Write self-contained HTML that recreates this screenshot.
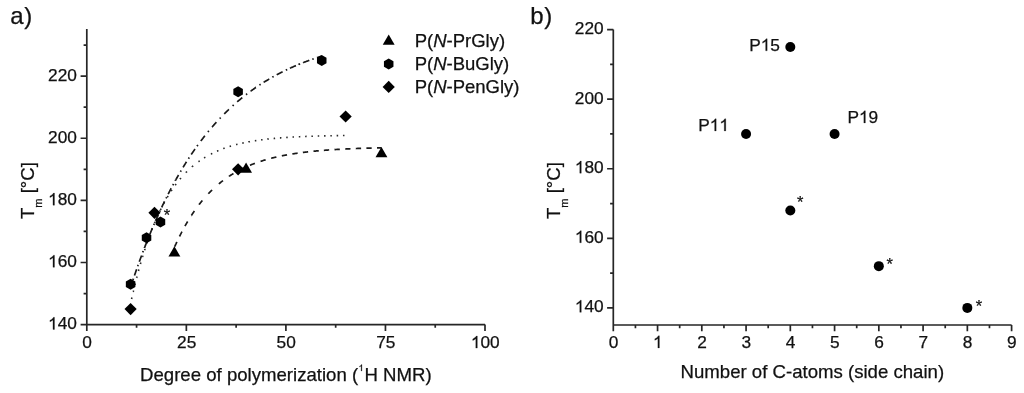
<!DOCTYPE html><html><head><meta charset="utf-8"><style>html,body{margin:0;padding:0;background:#fff;}svg{display:block;will-change:transform;font-kerning:none}text{white-space:pre;stroke:#111;stroke-width:0.25px}</style></head><body>
<svg width="1024" height="393" viewBox="0 0 1024 393" font-family="&quot;Liberation Sans&quot;, sans-serif" fill="#111">
<path d="M86.80 29V330.90 M80.60 324.60H485.00 M83.60 293.54H86.80 M80.60 262.48H86.80 M83.60 231.42H86.80 M80.60 200.36H86.80 M83.60 169.30H86.80 M80.60 138.24H86.80 M83.60 107.18H86.80 M80.60 76.12H86.80 M83.60 45.06H86.80 M136.57 324.60V327.80 M186.35 324.60V330.90 M236.12 324.60V327.80 M285.90 324.60V330.90 M335.68 324.60V327.80 M385.45 324.60V330.90 M435.23 324.60V327.80 M485.00 324.60V330.90" stroke="#262626" stroke-width="1.7" fill="none"/>
<g transform="translate(76.90 329.40)"><path transform="translate(-28.86 0.00) scale(0.00845 -0.00824)" d="M763 0L583 0L583 1147Q518 1085 412 1023Q306 961 222 930L222 1104Q373 1175 486 1276Q599 1377 646 1466L763 1466Z" stroke="#111" stroke-width="0.25" vector-effect="non-scaling-stroke"/><text x="-19.24" y="0.00" font-size="17.3">40</text></g>
<g transform="translate(76.90 267.28)"><path transform="translate(-28.86 0.00) scale(0.00845 -0.00824)" d="M763 0L583 0L583 1147Q518 1085 412 1023Q306 961 222 930L222 1104Q373 1175 486 1276Q599 1377 646 1466L763 1466Z" stroke="#111" stroke-width="0.25" vector-effect="non-scaling-stroke"/><text x="-19.24" y="0.00" font-size="17.3">60</text></g>
<g transform="translate(76.90 205.16)"><path transform="translate(-28.86 0.00) scale(0.00845 -0.00824)" d="M763 0L583 0L583 1147Q518 1085 412 1023Q306 961 222 930L222 1104Q373 1175 486 1276Q599 1377 646 1466L763 1466Z" stroke="#111" stroke-width="0.25" vector-effect="non-scaling-stroke"/><text x="-19.24" y="0.00" font-size="17.3">80</text></g>
<g transform="translate(76.90 143.04)"><text x="-28.86" y="0.00" font-size="17.3">200</text></g>
<g transform="translate(76.90 80.92)"><text x="-28.86" y="0.00" font-size="17.3">220</text></g>
<g transform="translate(87.10 348.10)"><text x="-4.81" y="0.00" font-size="17.3">0</text></g>
<g transform="translate(186.65 348.10)"><text x="-9.62" y="0.00" font-size="17.3">25</text></g>
<g transform="translate(286.20 348.10)"><text x="-9.62" y="0.00" font-size="17.3">50</text></g>
<g transform="translate(385.75 348.10)"><text x="-9.62" y="0.00" font-size="17.3">75</text></g>
<g transform="translate(485.30 348.10)"><path transform="translate(-14.43 0.00) scale(0.00845 -0.00824)" d="M763 0L583 0L583 1147Q518 1085 412 1023Q306 961 222 930L222 1104Q373 1175 486 1276Q599 1377 646 1466L763 1466Z" stroke="#111" stroke-width="0.25" vector-effect="non-scaling-stroke"/><text x="-4.81" y="0.00" font-size="17.3">00</text></g>
<path d="M613.30 29.58V331.20 M613.30 325.00H1011.60 M607.10 307.90H613.30 M610.10 273.11H613.30 M607.10 238.32H613.30 M610.10 203.53H613.30 M607.10 168.74H613.30 M610.10 133.95H613.30 M607.10 99.16H613.30 M610.10 64.37H613.30 M607.10 29.58H613.30 M635.43 325.00V328.20 M657.56 325.00V331.20 M679.68 325.00V328.20 M701.81 325.00V331.20 M723.94 325.00V328.20 M746.07 325.00V331.20 M768.19 325.00V328.20 M790.32 325.00V331.20 M812.45 325.00V328.20 M834.58 325.00V331.20 M856.71 325.00V328.20 M878.83 325.00V331.20 M900.96 325.00V328.20 M923.09 325.00V331.20 M945.22 325.00V328.20 M967.34 325.00V331.20 M989.47 325.00V328.20 M1011.60 325.00V331.20" stroke="#262626" stroke-width="1.7" fill="none"/>
<g transform="translate(603.70 312.30)"><path transform="translate(-28.86 0.00) scale(0.00845 -0.00824)" d="M763 0L583 0L583 1147Q518 1085 412 1023Q306 961 222 930L222 1104Q373 1175 486 1276Q599 1377 646 1466L763 1466Z" stroke="#111" stroke-width="0.25" vector-effect="non-scaling-stroke"/><text x="-19.24" y="0.00" font-size="17.3">40</text></g>
<g transform="translate(603.70 242.72)"><path transform="translate(-28.86 0.00) scale(0.00845 -0.00824)" d="M763 0L583 0L583 1147Q518 1085 412 1023Q306 961 222 930L222 1104Q373 1175 486 1276Q599 1377 646 1466L763 1466Z" stroke="#111" stroke-width="0.25" vector-effect="non-scaling-stroke"/><text x="-19.24" y="0.00" font-size="17.3">60</text></g>
<g transform="translate(603.70 173.14)"><path transform="translate(-28.86 0.00) scale(0.00845 -0.00824)" d="M763 0L583 0L583 1147Q518 1085 412 1023Q306 961 222 930L222 1104Q373 1175 486 1276Q599 1377 646 1466L763 1466Z" stroke="#111" stroke-width="0.25" vector-effect="non-scaling-stroke"/><text x="-19.24" y="0.00" font-size="17.3">80</text></g>
<g transform="translate(603.70 103.56)"><text x="-28.86" y="0.00" font-size="17.3">200</text></g>
<g transform="translate(603.70 33.98)"><text x="-28.86" y="0.00" font-size="17.3">220</text></g>
<g transform="translate(613.50 347.90)"><text x="-4.81" y="0.00" font-size="17.3">0</text></g>
<g transform="translate(657.76 347.90)"><path transform="translate(-4.81 0.00) scale(0.00845 -0.00824)" d="M763 0L583 0L583 1147Q518 1085 412 1023Q306 961 222 930L222 1104Q373 1175 486 1276Q599 1377 646 1466L763 1466Z" stroke="#111" stroke-width="0.25" vector-effect="non-scaling-stroke"/></g>
<g transform="translate(702.01 347.90)"><text x="-4.81" y="0.00" font-size="17.3">2</text></g>
<g transform="translate(746.27 347.90)"><text x="-4.81" y="0.00" font-size="17.3">3</text></g>
<g transform="translate(790.52 347.90)"><text x="-4.81" y="0.00" font-size="17.3">4</text></g>
<g transform="translate(834.78 347.90)"><text x="-4.81" y="0.00" font-size="17.3">5</text></g>
<g transform="translate(879.03 347.90)"><text x="-4.81" y="0.00" font-size="17.3">6</text></g>
<g transform="translate(923.29 347.90)"><text x="-4.81" y="0.00" font-size="17.3">7</text></g>
<g transform="translate(967.54 347.90)"><text x="-4.81" y="0.00" font-size="17.3">8</text></g>
<g transform="translate(1011.80 347.90)"><text x="-4.81" y="0.00" font-size="17.3">9</text></g>
<g transform="translate(0.00 24.30)"><text x="10.18" y="0.00" font-size="24">a</text><text x="24.36" y="0.00" font-size="24">)</text></g>
<g transform="translate(0.00 24.40)"><text x="530.25" y="0.00" font-size="24">b</text><text x="544.36" y="0.00" font-size="24">)</text></g>
<g transform="translate(140.07 381.30)"><text x="0.00" y="0.00" font-size="18.6">Degree of polymerization (</text><path transform="translate(218.43 -10.30) scale(0.00449 -0.00438)" d="M763 0L583 0L583 1147Q518 1085 412 1023Q306 961 222 930L222 1104Q373 1175 486 1276Q599 1377 646 1466L763 1466Z" stroke="#111" stroke-width="0.25" vector-effect="non-scaling-stroke"/><text x="224.40" y="0.00" font-size="18.6">H NMR)</text></g>
<g transform="translate(680.57 378.20)"><text x="0.00" y="0.00" font-size="18.6">Number of C-atoms (side chain)</text></g>
<g transform="translate(33.70 219.02) rotate(-90)"><text x="0.00" y="0.00" font-size="18.6">T</text><text x="11.36" y="7.90" font-size="11">m</text><text x="20.52" y="0.00" font-size="18.6"> [°C]</text></g>
<g transform="translate(560.00 219.02) rotate(-90)"><text x="0.00" y="0.00" font-size="18.6">T</text><text x="11.36" y="7.90" font-size="11">m</text><text x="20.52" y="0.00" font-size="18.6"> [°C]</text></g>
<path d="M382.75 44.74L394.65 44.74L388.70 34.43Z" fill="#000"/>
<g transform="translate(414.68 47.40)"><text x="0.00" y="0.00" font-size="18.5">P(</text><text x="18.50" y="0.00" font-size="18.5" font-style="italic">N</text><text x="31.86" y="0.00" font-size="18.5">-PrGly)</text></g>
<path d="M388.70 58.50L383.94 61.25L383.94 66.75L388.70 69.50L393.46 66.75L393.46 61.25Z" fill="#000"/>
<g transform="translate(414.68 70.10)"><text x="0.00" y="0.00" font-size="18.5">P(</text><text x="18.50" y="0.00" font-size="18.5" font-style="italic">N</text><text x="31.86" y="0.00" font-size="18.5">-BuGly)</text></g>
<path d="M388.70 80.80L394.80 86.90L388.70 93.00L382.60 86.90Z" fill="#000"/>
<g transform="translate(414.68 93.00)"><text x="0.00" y="0.00" font-size="18.5">P(</text><text x="18.50" y="0.00" font-size="18.5" font-style="italic">N</text><text x="31.86" y="0.00" font-size="18.5">-PenGly)</text></g>
<path d="M174.71 246.64L174.71 246.62L174.89 246.24L175.06 245.85L175.23 245.47L175.40 245.09L175.58 244.71L175.75 244.33L175.92 243.95L176.10 243.58L176.27 243.20L176.44 242.83L176.61 242.46L176.79 242.09L176.91 241.82M179.52 236.41L179.55 236.37L179.72 236.02L179.89 235.67L180.06 235.33L180.24 234.99L180.41 234.65L180.58 234.31L180.76 233.97L180.93 233.63L181.10 233.30L181.27 232.96L181.45 232.63L181.62 232.30L181.79 231.97L181.93 231.69M184.99 226.07L185.00 226.05L185.21 225.68L185.41 225.32L185.62 224.95L185.83 224.59L186.04 224.23L186.24 223.87L186.45 223.51L186.66 223.16L186.86 222.80L187.07 222.45L187.28 222.10L187.49 221.75L187.65 221.48M191.45 215.37L191.46 215.37L191.70 215.00L191.94 214.63L192.18 214.26L192.42 213.90L192.66 213.53L192.90 213.17L193.15 212.81L193.39 212.46L193.63 212.10L193.87 211.75L194.11 211.40L194.35 211.05L194.41 210.97M199.07 204.60L199.08 204.58L199.36 204.22L199.64 203.87L199.91 203.52L200.19 203.17L200.46 202.82L200.74 202.47L201.02 202.13L201.29 201.79L201.57 201.45L201.84 201.11L202.12 200.78L202.38 200.46M208.36 193.73L208.37 193.72L208.68 193.39L208.99 193.07L209.30 192.75L209.61 192.43L209.92 192.11L210.23 191.80L210.54 191.48L210.85 191.17L211.16 190.86L211.47 190.56L211.79 190.26L212.08 189.96M218.85 183.89L218.86 183.88L219.21 183.59L219.55 183.31L219.90 183.03L220.24 182.75L220.59 182.47L220.93 182.19L221.28 181.92L221.62 181.65L221.97 181.38L222.31 181.12L222.66 180.85L223.00 180.59M228.96 176.37L228.97 176.35L229.32 176.13L229.66 175.90L230.01 175.68L230.36 175.45L230.70 175.23L231.05 175.01L231.39 174.79L231.74 174.58L232.08 174.36L232.43 174.15L232.77 173.94L233.12 173.73L233.44 173.54M239.19 170.30L239.19 170.30L239.57 170.10L239.95 169.91L240.33 169.71L240.71 169.52L241.09 169.32L241.47 169.13L241.85 168.94L242.23 168.76L242.61 168.57L242.99 168.38L243.37 168.20L243.75 168.02L243.93 167.93M249.96 165.26L249.99 165.25L250.37 165.09L250.75 164.94L251.13 164.78L251.51 164.63L251.89 164.48L252.27 164.33L252.65 164.18L253.03 164.03L253.41 163.89L253.79 163.74L254.17 163.60L254.55 163.46L254.90 163.33M260.56 161.36L260.59 161.35L261.01 161.21L261.42 161.08L261.83 160.95L262.25 160.82L262.66 160.69L263.08 160.56L263.49 160.43L263.91 160.31L264.32 160.18L264.73 160.06L265.15 159.94L265.56 159.81L265.63 159.79M271.22 158.26L271.26 158.26L271.67 158.15L272.09 158.04L272.50 157.94L272.91 157.84L273.33 157.74L273.74 157.64L274.16 157.53L274.57 157.44L274.98 157.34L275.40 157.24L275.81 157.14L276.23 157.05L276.37 157.02M281.85 155.84L281.85 155.84L282.27 155.75L282.68 155.67L283.10 155.59L283.51 155.51L283.92 155.43L284.34 155.35L284.75 155.27L285.17 155.19L285.58 155.11L286.00 155.04L286.41 154.96L286.82 154.88L287.05 154.84M292.38 153.94L292.38 153.94L292.80 153.87L293.21 153.81L293.62 153.74L294.04 153.68L294.45 153.62L294.87 153.55L295.28 153.49L295.69 153.43L296.11 153.37L296.52 153.31L296.94 153.25L297.35 153.19L297.62 153.15M302.87 152.45L302.87 152.45L303.29 152.39L303.70 152.34L304.12 152.29L304.53 152.24L304.95 152.19L305.36 152.14L305.77 152.09L306.19 152.04L306.60 151.99L307.02 151.95L307.43 151.90L307.84 151.85L308.13 151.82M313.50 151.25L313.51 151.25L313.92 151.21L314.33 151.17L314.75 151.13L315.16 151.09L315.58 151.05L315.99 151.01L316.40 150.97L316.82 150.93L317.23 150.90L317.65 150.86L318.06 150.82L318.48 150.78L318.78 150.76M323.86 150.33L323.89 150.33L324.31 150.30L324.72 150.27L325.14 150.23L325.55 150.20L325.97 150.17L326.38 150.14L326.79 150.11L327.21 150.08L327.62 150.05L328.04 150.02L328.45 149.99L328.86 149.96L329.15 149.94M334.54 149.59L334.56 149.58L334.97 149.56L335.39 149.53L335.80 149.51L336.22 149.48L336.63 149.46L337.05 149.43L337.46 149.41L337.87 149.39L338.29 149.36L338.70 149.34L339.12 149.32L339.53 149.29L339.83 149.28M345.22 149.00L345.23 149.00L345.64 148.98L346.05 148.96L346.47 148.94L346.88 148.92L347.30 148.90L347.71 148.88L348.13 148.86L348.54 148.84L348.95 148.82L349.37 148.80L349.78 148.78L350.20 148.77L350.52 148.75M355.81 148.54L355.82 148.54L356.24 148.52L356.65 148.50L357.06 148.49L357.48 148.47L357.89 148.46L358.31 148.44L358.72 148.43L359.14 148.41L359.55 148.40L359.96 148.38L360.38 148.37L360.79 148.35L361.11 148.34M366.40 148.17L366.42 148.17L366.83 148.16L367.25 148.15L367.66 148.14L368.08 148.12L368.49 148.11L368.90 148.10L369.32 148.09L369.73 148.08L370.15 148.06L370.56 148.05L370.98 148.04L371.39 148.03L371.70 148.02M377.00 147.89L377.02 147.89L377.36 147.88L377.71 147.87L378.05 147.86L378.40 147.85L378.74 147.85L379.09 147.84L379.43 147.83L379.78 147.82L380.12 147.82L380.47 147.81L380.81 147.80L381.16 147.79L381.47 147.79" fill="none" stroke="#1a1a1a" stroke-width="1.7"/>
<path d="M131.59 299.03L131.61 298.94L131.64 298.79L131.68 298.63L131.71 298.47L131.75 298.31L131.78 298.15L131.82 297.99L131.86 297.83L131.89 297.67L131.92 297.56M133.20 291.99L133.22 291.93L133.25 291.78L133.29 291.62L133.33 291.47L133.36 291.32L133.40 291.17L133.43 291.01L133.47 290.86L133.51 290.71L133.54 290.56L133.55 290.53M134.89 284.97L134.90 284.92L134.94 284.77L134.97 284.63L135.01 284.48L135.05 284.34L135.08 284.19L135.12 284.05L135.15 283.90L135.19 283.76L135.23 283.61L135.25 283.52M136.65 277.97L136.66 277.95L136.70 277.81L136.73 277.67L136.77 277.53L136.80 277.39L136.84 277.25L136.87 277.11L136.91 276.98L136.95 276.84L136.98 276.70L137.02 276.56L137.03 276.52M138.50 271.00L138.52 270.90L138.56 270.77L138.60 270.64L138.63 270.50L138.67 270.37L138.70 270.24L138.74 270.11L138.77 269.98L138.81 269.85L138.85 269.72L138.88 269.58L138.89 269.55M140.43 264.04L140.46 263.95L140.49 263.82L140.53 263.70L140.57 263.57L140.60 263.45L140.64 263.32L140.67 263.20L140.71 263.07L140.75 262.95L140.78 262.83L140.82 262.70L140.85 262.60M142.47 257.12L142.47 257.12L142.50 257.00L142.54 256.88L142.57 256.76L142.61 256.64L142.65 256.52L142.68 256.41L142.72 256.29L142.75 256.17L142.79 256.05L142.82 255.94L142.86 255.82L142.90 255.70L142.90 255.68M144.61 250.23L144.62 250.20L144.65 250.09L144.69 249.97L144.72 249.86L144.76 249.75L144.80 249.64L144.83 249.53L144.87 249.42L144.90 249.31L144.94 249.19L144.98 249.08L145.01 248.97L145.05 248.86L145.07 248.80M146.87 243.37L146.88 243.35L146.91 243.25L146.95 243.14L146.98 243.04L147.02 242.93L147.05 242.83L147.09 242.72L147.13 242.62L147.16 242.51L147.20 242.41L147.23 242.31L147.27 242.20L147.31 242.10L147.34 241.99L147.36 241.95M149.26 236.56L149.28 236.52L149.31 236.42L149.35 236.32L149.38 236.23L149.42 236.13L149.46 236.03L149.49 235.93L149.53 235.83L149.56 235.73L149.60 235.64L149.64 235.54L149.67 235.44L149.71 235.34L149.74 235.25L149.78 235.15M151.80 229.81L151.82 229.75L151.86 229.66L151.89 229.57L151.93 229.47L151.97 229.38L152.00 229.29L152.04 229.20L152.07 229.11L152.11 229.02L152.14 228.92L152.18 228.83L152.22 228.74L152.25 228.65L152.29 228.56L152.32 228.47L152.35 228.41M154.50 223.11L154.51 223.09L154.55 223.00L154.58 222.92L154.62 222.83L154.65 222.75L154.69 222.66L154.72 222.57L154.76 222.49L154.80 222.40L154.83 222.32L154.87 222.23L154.90 222.15L154.94 222.07L154.98 221.98L155.01 221.90L155.05 221.81L155.08 221.73M157.38 216.49L157.41 216.42L157.45 216.34L157.48 216.26L157.52 216.18L157.56 216.10L157.59 216.02L157.63 215.94L157.66 215.86L157.70 215.79L157.74 215.71L157.77 215.63L157.81 215.55L157.84 215.47L157.88 215.39L157.92 215.32L157.95 215.24L157.99 215.16L158.00 215.13M160.46 209.97L160.46 209.96L160.50 209.89L160.53 209.81L160.57 209.74L160.60 209.67L160.64 209.59L160.68 209.52L160.71 209.45L160.75 209.38L160.78 209.31L160.82 209.23L160.85 209.16L160.89 209.09L160.93 209.02L160.96 208.95L161.00 208.87L161.03 208.80L161.07 208.73L161.11 208.66L161.12 208.62M163.76 203.55L163.76 203.54L163.79 203.48L163.83 203.41L163.87 203.34L163.90 203.28L163.94 203.21L163.97 203.15L164.01 203.08L164.04 203.01L164.08 202.95L164.12 202.88L164.15 202.82L164.19 202.75L164.22 202.68L164.26 202.62L164.30 202.55L164.33 202.49L164.37 202.42L164.40 202.36L164.44 202.29L164.47 202.23M167.30 197.26L167.31 197.25L167.34 197.19L167.38 197.13L167.41 197.07L167.45 197.01L167.49 196.95L167.52 196.89L167.56 196.83L167.59 196.77L167.63 196.71L167.66 196.65L167.70 196.59L167.74 196.53L167.77 196.47L167.81 196.41L167.84 196.35L167.88 196.29L167.92 196.23L167.95 196.17L167.99 196.11L168.02 196.06L168.06 196.00L168.07 195.97M171.12 191.14L171.14 191.10L171.18 191.05L171.21 190.99L171.25 190.94L171.28 190.88L171.32 190.83L171.36 190.78L171.39 190.72L171.43 190.67L171.46 190.61L171.50 190.56L171.54 190.51L171.57 190.45L171.61 190.40L171.64 190.34L171.68 190.29L171.72 190.24L171.75 190.18L171.79 190.13L171.82 190.08L171.86 190.02L171.89 189.97L171.93 189.92L171.95 189.89M175.23 185.21L175.26 185.17L175.34 185.07L175.41 184.97L175.48 184.88L175.55 184.78L175.62 184.68L175.69 184.59L175.77 184.49L175.84 184.39L175.91 184.30L175.98 184.20L176.05 184.11L176.12 184.01L176.13 184.00M179.98 179.14L179.99 179.12L180.07 179.04L180.14 178.95L180.21 178.87L180.28 178.78L180.35 178.70L180.43 178.61L180.50 178.53L180.57 178.44L180.64 178.36L180.71 178.27L180.78 178.19L180.86 178.11L180.93 178.02L180.95 178.00M185.88 172.62L185.91 172.58L185.98 172.51L186.05 172.44L186.12 172.36L186.20 172.29L186.27 172.22L186.34 172.15L186.41 172.07L186.48 172.00L186.55 171.93L186.63 171.86L186.70 171.79L186.77 171.72L186.84 171.64L186.91 171.57L186.93 171.55M192.07 166.80L192.07 166.79L192.15 166.73L192.22 166.67L192.29 166.61L192.36 166.55L192.43 166.48L192.50 166.42L192.58 166.36L192.65 166.30L192.72 166.24L192.79 166.18L192.86 166.12L192.93 166.06L193.01 166.00L193.08 165.94L193.15 165.88L193.21 165.83M198.50 161.71L198.53 161.69L198.60 161.63L198.67 161.58L198.74 161.53L198.81 161.48L198.88 161.43L198.96 161.38L199.03 161.32L199.10 161.27L199.17 161.22L199.24 161.17L199.31 161.12L199.39 161.07L199.46 161.02L199.53 160.97L199.60 160.92L199.67 160.87L199.72 160.84M204.05 157.97L204.08 157.95L204.15 157.91L204.23 157.86L204.30 157.82L204.37 157.77L204.44 157.73L204.51 157.68L204.58 157.64L204.66 157.60L204.73 157.55L204.80 157.51L204.87 157.46L204.94 157.42L205.01 157.38L205.09 157.33L205.16 157.29L205.23 157.25L205.30 157.20L205.33 157.19M210.92 154.06L210.93 154.06L211.04 154.00L211.14 153.95L211.25 153.89L211.36 153.84L211.47 153.78L211.57 153.73L211.68 153.67L211.79 153.62L211.90 153.56L212.00 153.51L212.11 153.46L212.22 153.40L212.25 153.38M217.05 151.14L217.06 151.14L217.17 151.09L217.27 151.04L217.38 151.00L217.49 150.95L217.60 150.90L217.70 150.86L217.81 150.81L217.92 150.76L218.03 150.72L218.13 150.67L218.24 150.63L218.35 150.58L218.43 150.54M223.27 148.63L223.29 148.62L223.40 148.58L223.51 148.54L223.62 148.50L223.72 148.46L223.83 148.42L223.94 148.38L224.05 148.35L224.15 148.31L224.26 148.27L224.37 148.23L224.48 148.19L224.58 148.15L224.68 148.12M229.61 146.47L229.64 146.46L229.75 146.43L229.85 146.40L229.96 146.36L230.07 146.33L230.18 146.30L230.28 146.27L230.39 146.23L230.50 146.20L230.61 146.17L230.71 146.13L230.82 146.10L230.93 146.07L231.04 146.04L231.04 146.04M236.05 144.63L236.05 144.63L236.16 144.60L236.27 144.57L236.38 144.55L236.49 144.52L236.59 144.49L236.70 144.46L236.81 144.44L236.92 144.41L237.02 144.38L237.13 144.35L237.24 144.33L237.35 144.30L237.45 144.27L237.50 144.26M242.27 143.13L242.29 143.13L242.40 143.10L242.51 143.08L242.61 143.06L242.72 143.03L242.83 143.01L242.94 142.99L243.04 142.96L243.15 142.94L243.26 142.92L243.37 142.89L243.47 142.87L243.58 142.85L243.69 142.82L243.74 142.81M248.45 141.88L248.46 141.87L248.56 141.85L248.67 141.83L248.78 141.81L248.89 141.79L248.99 141.77L249.10 141.75L249.21 141.73L249.32 141.71L249.42 141.69L249.53 141.67L249.64 141.66L249.75 141.64L249.85 141.62L249.92 141.60M254.85 140.77L254.87 140.77L254.98 140.75L255.09 140.74L255.20 140.72L255.30 140.70L255.41 140.69L255.52 140.67L255.63 140.65L255.73 140.64L255.84 140.62L255.95 140.60L256.06 140.59L256.16 140.57L256.27 140.56L256.33 140.55M261.10 139.87L261.11 139.87L261.22 139.86L261.32 139.84L261.43 139.83L261.54 139.81L261.65 139.80L261.76 139.78L261.86 139.77L261.97 139.76L262.08 139.74L262.19 139.73L262.29 139.72L262.40 139.70L262.51 139.69L262.58 139.68M267.36 139.11L267.38 139.10L267.49 139.09L267.60 139.08L267.71 139.07L267.81 139.06L267.92 139.04L268.03 139.03L268.14 139.02L268.24 139.01L268.35 139.00L268.46 138.99L268.57 138.97L268.67 138.96L268.78 138.95L268.85 138.94M273.64 138.46L273.66 138.46L273.76 138.45L273.87 138.44L273.98 138.43L274.09 138.42L274.19 138.41L274.30 138.40L274.41 138.39L274.52 138.38L274.62 138.37L274.73 138.36L274.84 138.35L274.95 138.34L275.05 138.33L275.13 138.32M279.92 137.91L279.93 137.91L280.04 137.91L280.14 137.90L280.25 137.89L280.36 137.88L280.47 137.87L280.57 137.86L280.68 137.85L280.79 137.85L280.90 137.84L281.00 137.83L281.11 137.82L281.22 137.81L281.33 137.80L281.42 137.80M286.22 137.45L286.24 137.45L286.34 137.44L286.45 137.44L286.56 137.43L286.67 137.42L286.77 137.42L286.88 137.41L286.99 137.40L287.10 137.39L287.20 137.39L287.31 137.38L287.42 137.37L287.53 137.37L287.63 137.36L287.71 137.35M292.51 137.06L292.55 137.06L292.65 137.06L292.76 137.05L292.87 137.04L292.98 137.04L293.08 137.03L293.19 137.03L293.30 137.02L293.41 137.01L293.51 137.01L293.62 137.00L293.73 137.00L293.84 136.99L293.94 136.98L294.01 136.98M298.81 136.74L298.82 136.74L298.93 136.73L299.03 136.73L299.14 136.72L299.25 136.72L299.36 136.71L299.46 136.71L299.57 136.70L299.68 136.70L299.79 136.69L299.89 136.69L300.00 136.68L300.11 136.68L300.22 136.67L300.31 136.67M305.12 136.46L305.13 136.46L305.23 136.45L305.34 136.45L305.45 136.45L305.56 136.44L305.66 136.44L305.77 136.43L305.88 136.43L305.99 136.42L306.09 136.42L306.20 136.42L306.31 136.41L306.42 136.41L306.52 136.40L306.62 136.40M311.42 136.23L311.43 136.23L311.54 136.22L311.65 136.22L311.76 136.22L311.86 136.21L311.97 136.21L312.08 136.20L312.19 136.20L312.30 136.20L312.40 136.19L312.51 136.19L312.62 136.19L312.73 136.18L312.83 136.18L312.92 136.18M317.73 136.03L317.74 136.03L317.85 136.03L317.96 136.02L318.07 136.02L318.17 136.02L318.28 136.01L318.39 136.01L318.50 136.01L318.60 136.01L318.71 136.00L318.82 136.00L318.93 136.00L319.03 135.99L319.14 135.99L319.23 135.99M324.04 135.86L324.05 135.86L324.16 135.86L324.27 135.86L324.37 135.86L324.48 135.85L324.59 135.85L324.70 135.85L324.80 135.85L324.91 135.84L325.02 135.84L325.13 135.84L325.23 135.84L325.34 135.83L325.45 135.83L325.54 135.83M330.35 135.72L330.36 135.72L330.47 135.72L330.58 135.72L330.68 135.72L330.79 135.72L330.90 135.71L331.01 135.71L331.11 135.71L331.22 135.71L331.33 135.70L331.44 135.70L331.54 135.70L331.65 135.70L331.76 135.70L331.85 135.69M336.66 135.61L336.67 135.61L336.78 135.60L336.88 135.60L336.99 135.60L337.10 135.60L337.21 135.60L337.31 135.60L337.42 135.59L337.53 135.59L337.64 135.59L337.74 135.59L337.85 135.59L337.96 135.58L338.07 135.58L338.16 135.58M342.97 135.51L342.98 135.51L343.09 135.51L343.19 135.50L343.30 135.50L343.41 135.50L343.52 135.50L343.62 135.50L343.73 135.50L343.84 135.49L343.95 135.49L344.05 135.49L344.16 135.49L344.27 135.49L344.38 135.49L344.47 135.49" fill="none" stroke="#2a2a2a" stroke-width="1.6"/>
<path d="M132.93 280.10L132.96 280.02L132.99 279.92L133.02 279.83L133.06 279.73L133.09 279.64L133.12 279.54L133.15 279.45L133.18 279.35L133.21 279.26L133.25 279.16L133.28 279.07L133.31 278.97L133.34 278.88L133.37 278.78L133.41 278.69L133.41 278.67M137.72 266.19L137.74 266.13L137.77 266.04L137.80 265.95L137.83 265.86L137.87 265.77L137.90 265.68L137.93 265.59L137.96 265.50L137.99 265.41L138.03 265.32L138.06 265.23L138.09 265.14L138.12 265.05L138.15 264.96L138.18 264.87L138.22 264.78L138.22 264.78M142.75 252.39L142.77 252.33L142.80 252.25L142.84 252.16L142.87 252.08L142.90 251.99L142.93 251.91L142.96 251.82L143.00 251.74L143.03 251.66L143.06 251.57L143.09 251.49L143.12 251.40L143.16 251.32L143.19 251.23L143.22 251.15L143.25 251.07L143.28 250.98M148.07 238.68L148.09 238.62L148.13 238.54L148.16 238.47L148.19 238.39L148.22 238.31L148.25 238.23L148.29 238.15L148.32 238.07L148.35 237.99L148.38 237.91L148.41 237.83L148.44 237.75L148.48 237.67L148.51 237.59L148.54 237.51L148.57 237.44L148.60 237.36L148.63 237.29M153.70 225.10L153.70 225.09L153.73 225.02L153.77 224.94L153.80 224.87L153.83 224.79L153.86 224.72L153.89 224.65L153.92 224.57L153.96 224.50L153.99 224.42L154.02 224.35L154.05 224.28L154.08 224.20L154.12 224.13L154.15 224.05L154.18 223.98L154.21 223.91L154.24 223.83L154.27 223.76L154.29 223.72M159.66 211.67L159.69 211.60L159.72 211.53L159.76 211.47L159.79 211.40L159.82 211.33L159.85 211.26L159.88 211.19L159.91 211.12L159.95 211.05L159.98 210.98L160.01 210.91L160.04 210.84L160.07 210.78L160.11 210.71L160.14 210.64L160.17 210.57L160.20 210.50L160.23 210.43L160.26 210.36L160.29 210.30M166.00 198.40L166.03 198.34L166.06 198.28L166.10 198.21L166.13 198.15L166.16 198.09L166.19 198.02L166.22 197.96L166.25 197.89L166.29 197.83L166.32 197.77L166.35 197.70L166.38 197.64L166.41 197.57L166.45 197.51L166.48 197.45L166.51 197.38L166.54 197.32L166.57 197.25L166.61 197.19L166.64 197.13L166.67 197.06L166.67 197.06M172.75 185.34L172.75 185.34L172.79 185.28L172.82 185.22L172.85 185.16L172.88 185.10L172.91 185.04L172.95 184.98L172.98 184.92L173.01 184.86L173.04 184.80L173.07 184.75L173.10 184.69L173.14 184.63L173.17 184.57L173.20 184.51L173.23 184.45L173.26 184.39L173.30 184.33L173.33 184.27L173.36 184.22L173.39 184.16L173.42 184.10L173.46 184.04L173.46 184.03M180.40 171.75L180.43 171.71L180.50 171.60L180.56 171.49L180.62 171.38L180.69 171.27L180.75 171.17L180.82 171.06L180.88 170.95L180.94 170.84L181.01 170.74L181.07 170.63L181.13 170.52L181.17 170.46M188.45 158.74L188.46 158.73L188.53 158.63L188.59 158.53L188.65 158.44L188.72 158.34L188.78 158.24L188.84 158.14L188.91 158.05L188.97 157.95L189.04 157.85L189.10 157.75L189.16 157.66L189.23 157.56L189.27 157.49M197.03 146.19L197.03 146.19L197.10 146.10L197.16 146.01L197.22 145.92L197.29 145.83L197.35 145.75L197.42 145.66L197.48 145.57L197.54 145.48L197.61 145.39L197.67 145.31L197.73 145.22L197.80 145.13L197.86 145.04L197.91 144.98M207.92 132.00L207.93 131.99L207.99 131.91L208.06 131.84L208.12 131.76L208.18 131.68L208.25 131.60L208.31 131.53L208.38 131.45L208.44 131.37L208.50 131.29L208.57 131.22L208.63 131.14L208.69 131.06L208.76 130.99L208.82 130.91L208.88 130.84M219.67 118.63L219.69 118.61L219.75 118.54L219.81 118.48L219.88 118.41L219.94 118.34L220.00 118.27L220.07 118.21L220.13 118.14L220.20 118.07L220.26 118.01L220.32 117.94L220.39 117.87L220.45 117.81L220.51 117.74L220.58 117.67L220.64 117.60L220.70 117.54M232.58 105.95L232.59 105.94L232.65 105.88L232.72 105.82L232.78 105.77L232.84 105.71L232.91 105.65L232.97 105.59L233.04 105.53L233.10 105.48L233.16 105.42L233.23 105.36L233.29 105.30L233.35 105.25L233.42 105.19L233.48 105.13L233.55 105.08L233.61 105.02L233.67 104.96L233.69 104.94M245.98 94.70L246.00 94.68L246.10 94.61L246.19 94.53L246.29 94.46L246.39 94.39L246.48 94.31L246.58 94.24L246.67 94.17L246.77 94.09L246.86 94.02L246.96 93.95L247.06 93.87L247.15 93.80L247.17 93.79M259.40 85.11L259.42 85.09L259.51 85.03L259.61 84.97L259.70 84.91L259.80 84.84L259.90 84.78L259.99 84.72L260.09 84.65L260.18 84.59L260.28 84.53L260.37 84.47L260.47 84.41L260.56 84.34L260.66 84.28M272.37 77.19L272.38 77.18L272.48 77.12L272.58 77.07L272.67 77.02L272.77 76.96L272.86 76.91L272.96 76.86L273.05 76.80L273.15 76.75L273.25 76.70L273.34 76.64L273.44 76.59L273.53 76.54L273.63 76.48L273.68 76.45M285.85 70.16L285.86 70.15L285.96 70.11L286.05 70.06L286.15 70.02L286.24 69.97L286.34 69.93L286.44 69.88L286.53 69.83L286.63 69.79L286.72 69.74L286.82 69.70L286.91 69.65L287.01 69.61L287.10 69.56L287.20 69.52L287.20 69.52M298.73 64.43L298.73 64.42L298.83 64.38L298.93 64.35L299.02 64.31L299.12 64.27L299.21 64.23L299.31 64.19L299.40 64.15L299.50 64.11L299.59 64.07L299.69 64.03L299.79 63.99L299.88 63.95L299.98 63.92L300.07 63.88L300.12 63.86M312.28 59.27L312.31 59.26L312.40 59.23L312.50 59.20L312.59 59.16L312.69 59.13L312.78 59.10L312.88 59.06L312.98 59.03L313.07 59.00L313.17 58.97L313.26 58.93L313.36 58.90L313.45 58.87L313.55 58.83L313.65 58.80L313.70 58.78M130.60 287.17L130.63 287.07L130.73 286.78L130.83 286.49L130.92 286.19L131.02 285.90L131.11 285.61L131.21 285.32L131.30 285.02L131.40 284.73L131.49 284.44L131.59 284.15L131.69 283.86L131.78 283.57L131.88 283.28L131.89 283.23M134.47 275.55L134.49 275.49L134.65 275.02L134.81 274.55L134.97 274.09L135.13 273.62L135.29 273.16L135.44 272.70L135.60 272.24L135.76 271.78L135.92 271.31L136.08 270.86L136.24 270.40L136.40 269.94L136.56 269.48L136.62 269.31M139.33 261.67L139.33 261.67L139.52 261.14L139.71 260.62L139.91 260.09L140.10 259.56L140.29 259.04L140.48 258.52L140.67 258.00L140.86 257.47L141.05 256.95L141.24 256.44L141.43 255.92L141.60 255.48M144.46 247.90L144.46 247.89L144.65 247.39L144.84 246.89L145.04 246.40L145.23 245.90L145.42 245.41L145.61 244.92L145.80 244.43L145.99 243.94L146.18 243.45L146.37 242.96L146.56 242.48L146.76 241.99L146.85 241.75M149.87 234.23L149.88 234.22L150.07 233.75L150.26 233.29L150.45 232.82L150.64 232.36L150.83 231.90L151.03 231.44L151.22 230.98L151.41 230.52L151.60 230.06L151.79 229.60L151.98 229.15L152.17 228.69L152.36 228.24L152.41 228.14M155.61 220.70L155.61 220.68L155.84 220.17L156.06 219.67L156.28 219.16L156.51 218.66L156.73 218.16L156.95 217.65L157.17 217.15L157.40 216.66L157.62 216.16L157.84 215.66L158.07 215.17L158.29 214.67L158.29 214.67M161.69 207.31L161.70 207.30L161.92 206.82L162.14 206.35L162.37 205.88L162.59 205.41L162.81 204.95L163.04 204.48L163.26 204.02L163.48 203.55L163.71 203.09L163.93 202.63L164.15 202.17L164.37 201.71L164.54 201.36M168.16 194.12L168.17 194.10L168.42 193.60L168.68 193.10L168.93 192.60L169.19 192.11L169.44 191.62L169.70 191.12L169.95 190.63L170.21 190.14L170.46 189.66L170.72 189.17L170.97 188.69L171.20 188.26M175.27 180.74L175.27 180.73L175.53 180.27L175.78 179.81L176.04 179.36L176.29 178.90L176.55 178.45L176.80 178.00L177.06 177.55L177.31 177.10L177.57 176.65L177.82 176.20L178.08 175.76L178.33 175.31L178.52 174.99M183.03 167.38L183.05 167.35L183.33 166.88L183.62 166.41L183.91 165.94L184.19 165.47L184.48 165.01L184.77 164.55L185.05 164.09L185.34 163.63L185.63 163.17L185.91 162.72L186.20 162.26L186.49 161.81L186.51 161.77M191.24 154.53L191.27 154.49L191.55 154.06L191.84 153.63L192.13 153.21L192.41 152.79L192.70 152.37L192.99 151.95L193.27 151.53L193.56 151.12L193.85 150.70L194.13 150.29L194.42 149.88L194.71 149.47L194.97 149.09M200.82 141.04L200.82 141.04L201.14 140.61L201.46 140.19L201.78 139.77L202.10 139.36L202.42 138.94L202.74 138.53L203.05 138.11L203.37 137.70L203.69 137.29L204.01 136.89L204.33 136.48L204.65 136.07L204.85 135.81M212.01 127.13L212.04 127.10L212.39 126.69L212.74 126.29L213.09 125.88L213.44 125.48L213.79 125.08L214.14 124.69L214.49 124.29L214.84 123.90L215.19 123.50L215.54 123.11L215.89 122.72L216.25 122.33L216.38 122.19M224.19 113.96L224.21 113.94L224.59 113.56L224.98 113.18L225.36 112.80L225.74 112.42L226.12 112.05L226.50 111.67L226.89 111.30L227.27 110.93L227.65 110.56L228.03 110.19L228.42 109.83L228.80 109.46L228.92 109.35M237.23 101.84L237.24 101.83L237.66 101.47L238.07 101.12L238.48 100.77L238.90 100.42L239.31 100.07L239.73 99.73L240.14 99.38L240.56 99.04L240.97 98.70L241.38 98.36L241.80 98.02L242.21 97.68L242.30 97.62M250.53 91.27L250.56 91.25L251.01 90.93L251.45 90.60L251.90 90.28L252.34 89.96L252.79 89.64L253.24 89.32L253.68 89.01L254.13 88.69L254.57 88.38L255.02 88.07L255.47 87.76L255.91 87.45L255.92 87.45M263.65 82.37L263.65 82.37L264.10 82.09L264.55 81.82L264.99 81.54L265.44 81.27L265.89 80.99L266.33 80.72L266.78 80.45L267.22 80.18L267.67 79.92L268.12 79.65L268.56 79.39L269.01 79.12L269.29 78.96M276.80 74.75L276.81 74.74L277.29 74.49L277.77 74.24L278.25 73.98L278.73 73.73L279.20 73.48L279.68 73.24L280.16 72.99L280.64 72.74L281.11 72.50L281.59 72.26L282.07 72.02L282.55 71.78L282.66 71.72M289.92 68.25L289.94 68.24L290.42 68.02L290.90 67.81L291.37 67.59L291.85 67.38L292.33 67.16L292.81 66.95L293.29 66.74L293.76 66.53L294.24 66.32L294.72 66.12L295.20 65.91L295.68 65.71L295.96 65.59M303.09 62.68L303.10 62.67L303.61 62.47L304.12 62.28L304.63 62.08L305.14 61.89L305.65 61.69L306.16 61.50L306.67 61.31L307.18 61.12L307.69 60.93L308.20 60.74L308.71 60.55L309.22 60.37L309.26 60.35M316.96 57.68L316.99 57.67L317.37 57.54L317.76 57.42L318.14 57.29L318.52 57.17L318.90 57.04L319.28 56.92L319.67 56.80L320.05 56.68L320.43 56.55L320.81 56.43L321.20 56.31L321.58 56.19L321.74 56.14" fill="none" stroke="#1a1a1a" stroke-width="1.7"/>
<path d="M168.45 256.60L180.35 256.60L174.40 246.29Z" fill="#000"/>
<path d="M240.13 172.74L252.03 172.74L246.08 162.43Z" fill="#000"/>
<path d="M375.52 157.21L387.42 157.21L381.47 146.90Z" fill="#000"/>
<path d="M130.60 278.72L125.84 281.47L125.84 286.97L130.60 289.72L135.37 286.97L135.37 281.47Z" fill="#000"/>
<path d="M146.53 232.13L141.77 234.88L141.77 240.38L146.53 243.13L151.29 240.38L151.29 234.88Z" fill="#000"/>
<path d="M160.47 216.60L155.70 219.35L155.70 224.85L160.47 227.60L165.23 224.85L165.23 219.35Z" fill="#000"/>
<path d="M238.12 86.15L233.35 88.90L233.35 94.40L238.12 97.15L242.88 94.40L242.88 88.90Z" fill="#000"/>
<path d="M321.74 55.09L316.97 57.84L316.97 63.34L321.74 66.09L326.50 63.34L326.50 57.84Z" fill="#000"/>
<path d="M130.60 302.97L136.70 309.07L130.60 315.17L124.50 309.07Z" fill="#000"/>
<path d="M154.49 206.68L160.59 212.78L154.49 218.88L148.39 212.78Z" fill="#000"/>
<path d="M238.12 163.20L244.22 169.30L238.12 175.40L232.02 169.30Z" fill="#000"/>
<path d="M345.63 110.40L351.73 116.50L345.63 122.60L339.53 116.50Z" fill="#000"/>
<text x="163.79" y="220.76" font-size="16.5">*</text>
<circle cx="790.32" cy="46.97" r="5" fill="#000"/>
<circle cx="746.07" cy="133.95" r="5" fill="#000"/>
<circle cx="834.58" cy="133.95" r="5" fill="#000"/>
<circle cx="790.32" cy="210.49" r="5" fill="#000"/>
<circle cx="878.83" cy="266.15" r="5" fill="#000"/>
<circle cx="967.34" cy="307.90" r="5" fill="#000"/>
<text x="796.89" y="207.76" font-size="16.5">*</text>
<text x="886.49" y="269.76" font-size="16.5">*</text>
<text x="975.79" y="311.56" font-size="16.5">*</text>
<g transform="translate(749.18 50.80)"><text x="0.00" y="0.00" font-size="17.3">P</text><path transform="translate(11.54 0.00) scale(0.00845 -0.00824)" d="M763 0L583 0L583 1147Q518 1085 412 1023Q306 961 222 930L222 1104Q373 1175 486 1276Q599 1377 646 1466L763 1466Z" stroke="#111" stroke-width="0.25" vector-effect="non-scaling-stroke"/><text x="21.16" y="0.00" font-size="17.3">5</text></g>
<g transform="translate(698.18 130.90)"><text x="0.00" y="0.00" font-size="17.3">P</text><path transform="translate(11.54 0.00) scale(0.00845 -0.00824)" d="M763 0L583 0L583 1147Q518 1085 412 1023Q306 961 222 930L222 1104Q373 1175 486 1276Q599 1377 646 1466L763 1466Z" stroke="#111" stroke-width="0.25" vector-effect="non-scaling-stroke"/><path transform="translate(21.16 0.00) scale(0.00845 -0.00824)" d="M763 0L583 0L583 1147Q518 1085 412 1023Q306 961 222 930L222 1104Q373 1175 486 1276Q599 1377 646 1466L763 1466Z" stroke="#111" stroke-width="0.25" vector-effect="non-scaling-stroke"/></g>
<g transform="translate(847.38 122.90)"><text x="0.00" y="0.00" font-size="17.3">P</text><path transform="translate(11.54 0.00) scale(0.00845 -0.00824)" d="M763 0L583 0L583 1147Q518 1085 412 1023Q306 961 222 930L222 1104Q373 1175 486 1276Q599 1377 646 1466L763 1466Z" stroke="#111" stroke-width="0.25" vector-effect="non-scaling-stroke"/><text x="21.16" y="0.00" font-size="17.3">9</text></g>
</svg></body></html>
